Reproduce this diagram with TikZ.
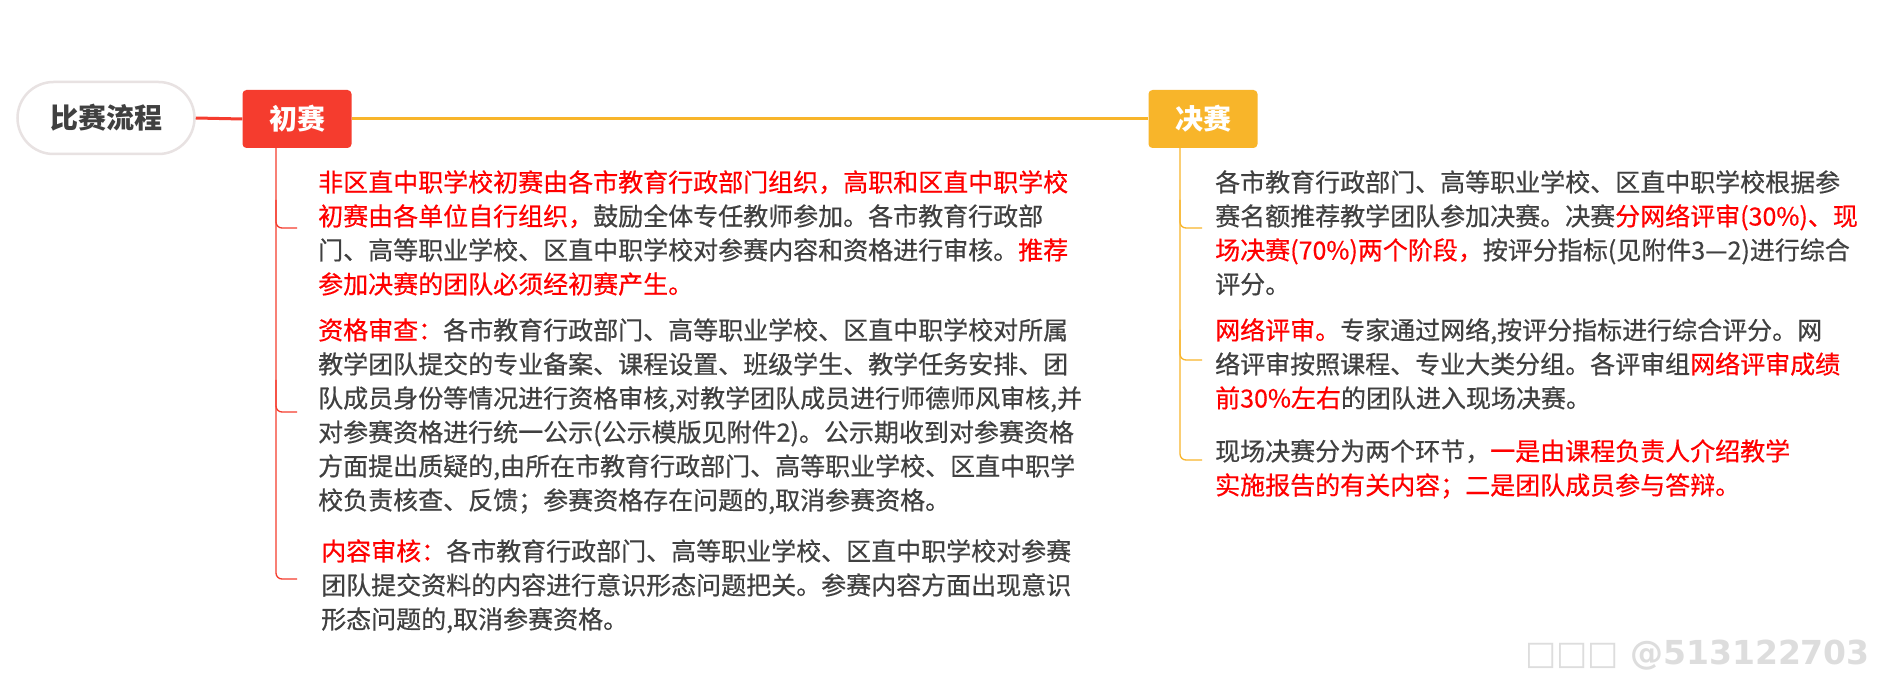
\documentclass[tikz,border=0pt]{standalone}
\usepackage{fontspec}
\newfontfamily\cjk[FakeBold=0.5]{Noto Sans CJK SC}
\newfontfamily\cjkplain{Noto Sans CJK SC}
\newfontfamily\wmfont{DejaVu Sans}
\definecolor{txtgray}{HTML}{404040}
\definecolor{txtred}{HTML}{FF0000}
\definecolor{redbox}{HTML}{F53C2E}
\definecolor{orangebox}{HTML}{F8B52A}
\definecolor{pillborder}{HTML}{E8E2E2}
\definecolor{wmgray}{HTML}{DDDDDD}
\newcommand{\rd}[1]{\textcolor{txtred}{#1}}
\begin{document}
\begin{tikzpicture}[x=1pt,y=-1pt,
  body/.style={anchor=base west, inner sep=0pt, font=\cjk\fontsize{25}{34}\selectfont, text=txtgray},
  pill/.style={draw=pillborder, line width=2.5pt, fill=white, rounded corners=36pt, minimum width=177pt, minimum height=72pt, inner sep=0pt, font=\cjkplain\bfseries\fontsize{28}{28}\selectfont, text=txtgray},
  stagebox/.style={rounded corners=4pt, minimum width=109pt, minimum height=58pt, inner sep=0pt, font=\cjkplain\bfseries\fontsize{28}{28}\selectfont, text=white},
  redline/.style={draw=redbox, line width=3pt},
  orangeline/.style={draw=orangebox, line width=3pt},
  redthin/.style={draw=redbox, line width=1.3pt, rounded corners=6pt},
  orangethin/.style={draw=orangebox, line width=1.3pt, rounded corners=6pt},
]
\useasboundingbox[fill=white] (0,0) rectangle (1891,676);

% main nodes
\node[pill] (root) at (106,118) {比赛流程};
\node[stagebox, fill=redbox] (chu) at (297,119) {初赛};
\node[stagebox, fill=orangebox] (jue) at (1203,119) {决赛};
\draw[redline] (root.east) -- (chu.west);
\draw[orangeline] (chu.east) -- (jue.west);

% left tree
\coordinate (lvtop) at (276,148);
\coordinate (lh1) at (297,228);
\coordinate (lh2) at (297,412);
\coordinate (lh3) at (297,579);
\draw[redthin] (lvtop) |- (lh3);
\draw[redthin] (276,200) |- (lh1);
\draw[redthin] (276,380) |- (lh2);

% right tree
\coordinate (rvtop) at (1180,148);
\coordinate (rh1) at (1202,228);
\coordinate (rh2) at (1202,360);
\coordinate (rh3) at (1202,460);
\draw[orangethin] (rvtop) |- (rh3);
\draw[orangethin] (1180,200) |- (rh1);
\draw[orangethin] (1180,330) |- (rh2);

% left block 1
\node[body] (a1) at (318,191.5) {\rd{非区直中职学校初赛由各市教育行政部门组织，高职和区直中职学校}};
\node[body] (a2) at (318,225.5) {\rd{初赛由各单位自行组织，}鼓励全体专任教师参加。各市教育行政部};
\node[body] (a3) at (318,259.5) {门、高等职业学校、区直中职学校对参赛内容和资格进行审核。\rd{推荐}};
\node[body] (a4) at (318,293.5) {\rd{参加决赛的团队必须经初赛产生。}};

% left block 2
\node[body] (b1) at (318,339.5) {\rd{资格审查：}各市教育行政部门、高等职业学校、区直中职学校对所属};
\node[body] (b2) at (318,373.5) {教学团队提交的专业备案、课程设置、班级学生、教学任务安排、团};
\node[body] (b3) at (318,407.5) {队成员身份等情况进行资格审核,对教学团队成员进行师德师风审核,并};
\node[body] (b4) at (318,441.5) {对参赛资格进行统一公示(公示模版见附件2)。公示期收到对参赛资格};
\node[body] (b5) at (318,475.5) {方面提出质疑的,由所在市教育行政部门、高等职业学校、区直中职学};
\node[body] (b6) at (318,509.5) {校负责核查、反馈；参赛资格存在问题的,取消参赛资格。};

% left block 3
\node[body] (c1) at (321,560.5) {\rd{内容审核：}各市教育行政部门、高等职业学校、区直中职学校对参赛};
\node[body] (c2) at (321,594.5) {团队提交资料的内容进行意识形态问题把关。参赛内容方面出现意识};
\node[body] (c3) at (321,628.5) {形态问题的,取消参赛资格。};

% right block 1
\node[body] (d1) at (1215,191.5) {各市教育行政部门、高等职业学校、区直中职学校根据参};
\node[body] (d2) at (1215,225.5) {赛名额推荐教学团队参加决赛。决赛\rd{分网络评审(30\%)、现}};
\node[body] (d3) at (1215,259.5) {\rd{场决赛(70\%)两个阶段，}按评分指标(见附件3—2)进行综合};
\node[body] (d4) at (1215,293.5) {评分。};

% right block 2
\node[body] (e1) at (1215,339.5) {\rd{网络评审。}专家通过网络,按评分指标进行综合评分。网};
\node[body] (e2) at (1215,373.5) {络评审按照课程、专业大类分组。各评审组\rd{网络评审成绩}};
\node[body] (e3) at (1215,407.5) {\rd{前30\%左右}的团队进入现场决赛。};

% right block 3
\node[body] (f1) at (1215,460.5) {现场决赛分为两个环节，\rd{一是由课程负责人介绍教学}};
\node[body] (f2) at (1215,494.5) {\rd{实施报告的有关内容；二是团队成员参与答辩。}};

% watermark
\node[anchor=east, inner sep=0pt, font=\wmfont\bfseries\fontsize{33}{33}\selectfont, text=wmgray] (wm) at (1870,655) {□□□ @513122703};
\end{tikzpicture}
\end{document}
